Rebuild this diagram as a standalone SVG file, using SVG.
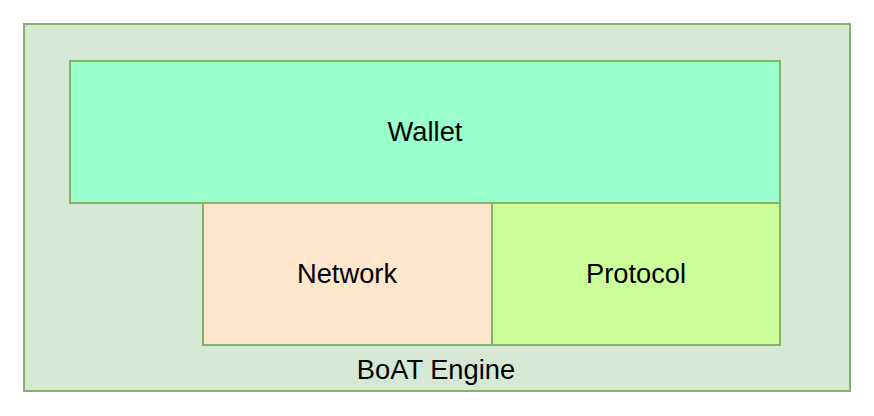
<svg xmlns="http://www.w3.org/2000/svg" width="874" height="416" viewBox="0 0 874 416">
<style>
rect{stroke:#82b366;stroke-width:2}
text{font-family:"Liberation Sans",Arial,sans-serif;font-size:27.3px;fill:#000;text-anchor:middle;dominant-baseline:central}
</style>
<rect x="0" y="0" width="874" height="416" fill="#fff" style="stroke:none"/>
<g id="engine"><rect x="24" y="24" width="826" height="367" fill="#d5e8d4"/><text x="436" y="369">BoAT Engine</text></g>
<g id="wallet"><rect x="70" y="61" width="710" height="142" fill="#99ffcc"/><text x="425" y="131">Wallet</text></g>
<g id="network"><rect x="203" y="203" width="289" height="142" fill="#ffe6cc"/><text x="347" y="273">Network</text></g>
<g id="protocol"><rect x="492" y="203" width="288" height="142" fill="#ccff99"/><text x="636" y="273">Protocol</text></g>
<g id="connectors"/>
</svg>
